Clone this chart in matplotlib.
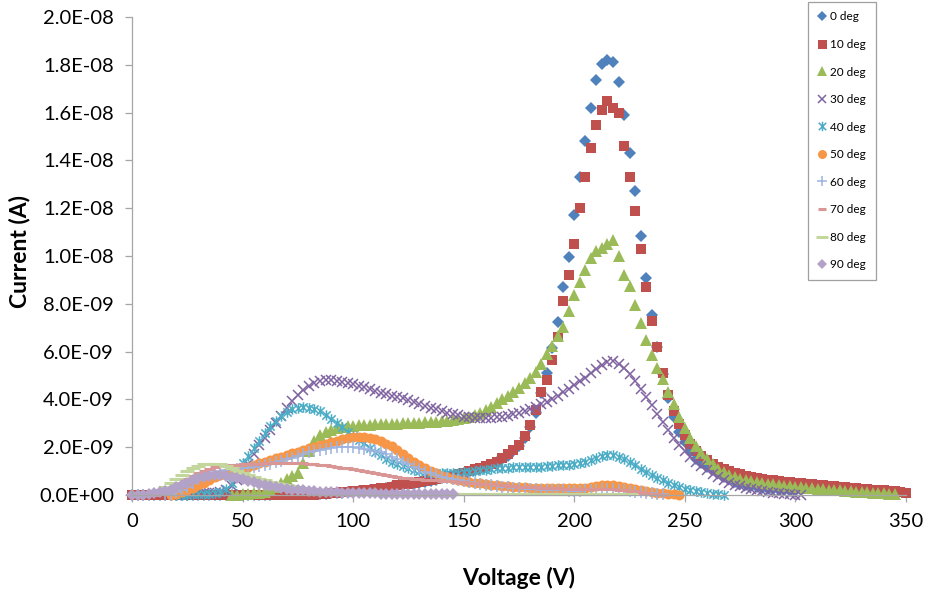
import numpy as np
import matplotlib
matplotlib.use("Agg")
import matplotlib.pyplot as plt
from matplotlib.path import Path
from matplotlib.ticker import FuncFormatter, MultipleLocator

STEP = 2.5  # voltage increment between readings (V)

# Collector current in nA, one reading every STEP volts from the start voltage
deg0_start = 0.0
deg0_na = [
    0.00, 0.00, 0.00, 0.00, 0.00, 0.00, 0.00, 0.00, 0.00, 0.00,
    0.00, 0.01, 0.01, 0.01, 0.01, 0.01, 0.01, 0.01, 0.01, 0.01,
    0.01, 0.02, 0.02, 0.02, 0.02, 0.02, 0.03, 0.03, 0.03, 0.03,
    0.04, 0.04, 0.05, 0.05, 0.06, 0.06, 0.07, 0.08, 0.09, 0.11,
    0.13, 0.15, 0.17, 0.19, 0.22, 0.25, 0.28, 0.32, 0.36, 0.40,
    0.44, 0.48, 0.52, 0.56, 0.60, 0.64, 0.70, 0.74, 0.78, 0.84,
    0.90, 0.97, 1.04, 1.10, 1.17, 1.25, 1.36, 1.50, 1.65, 1.83,
    2.03, 2.40, 2.85, 3.45, 4.25, 5.10, 6.15, 7.25, 8.70, 9.95,
    11.70, 13.30, 14.80, 16.20, 17.35, 18.05, 18.20, 18.10, 17.30, 15.90,
    14.30, 12.70, 10.85, 9.10, 7.55, 6.20, 5.05, 4.05, 3.25, 2.65,
    2.20, 1.85, 1.50, 1.33, 1.18, 1.03, 0.90, 0.76, 0.65, 0.55,
    0.47, 0.41, 0.36, 0.33, 0.30, 0.27, 0.25, 0.22, 0.20, 0.18,
    0.17,
]

deg10_start = 0.0
deg10_na = [
    0.00, 0.00, 0.00, 0.00, 0.00, 0.00, 0.00, 0.00, 0.00, 0.00,
    0.00, 0.00, 0.00, 0.00, 0.00, 0.00, 0.00, 0.00, 0.00, 0.00,
    0.00, 0.00, 0.00, 0.00, 0.00, 0.00, 0.00, 0.00, 0.00, 0.00,
    0.00, 0.00, 0.01, 0.02, 0.03, 0.05, 0.07, 0.09, 0.11, 0.13,
    0.15, 0.17, 0.19, 0.22, 0.25, 0.28, 0.31, 0.35, 0.40, 0.44,
    0.48, 0.52, 0.56, 0.60, 0.64, 0.68, 0.72, 0.76, 0.80, 0.86,
    0.92, 1.00, 1.07, 1.13, 1.20, 1.28, 1.40, 1.55, 1.70, 1.88,
    2.08, 2.45, 2.92, 3.55, 4.30, 4.80, 5.65, 6.60, 8.10, 9.20,
    10.50, 12.00, 13.30, 14.50, 15.50, 16.10, 16.50, 16.20, 16.00, 14.60,
    13.30, 11.90, 10.30, 8.70, 7.30, 6.20, 5.10, 4.20, 3.50, 2.95,
    2.50, 2.15, 1.85, 1.62, 1.45, 1.30, 1.18, 1.08, 0.99, 0.92,
    0.86, 0.80, 0.75, 0.71, 0.67, 0.64, 0.61, 0.58, 0.55, 0.53,
    0.51, 0.49, 0.47, 0.45, 0.43, 0.41, 0.39, 0.37, 0.35, 0.33,
    0.31, 0.29, 0.27, 0.25, 0.23, 0.21, 0.19, 0.17, 0.15, 0.12,
    0.10,
]

deg20_start = 45.0
deg20_na = [
    0.00, 0.00, 0.03, 0.05, 0.07, 0.10, 0.14, 0.20, 0.32, 0.50,
    0.68, 0.80, 0.90, 1.35, 1.85, 2.25, 2.50, 2.62, 2.72, 2.80,
    2.85, 2.88, 2.90, 2.92, 2.93, 2.94, 2.95, 2.96, 2.97, 2.98,
    2.99, 3.00, 3.01, 3.02, 3.03, 3.04, 3.05, 3.07, 3.09, 3.11,
    3.14, 3.17, 3.22, 3.28, 3.35, 3.45, 3.56, 3.70, 3.85, 4.00,
    4.15, 4.30, 4.48, 4.68, 4.90, 5.15, 5.50, 5.90, 6.25, 6.65,
    7.05, 7.70, 8.35, 8.90, 9.40, 9.90, 10.22, 10.32, 10.50, 10.65,
    10.00, 9.20, 8.75, 7.95, 7.20, 6.50, 5.85, 5.30, 4.85, 4.30,
    3.80, 3.25, 2.80, 2.40, 2.05, 1.75, 1.50, 1.28, 1.10, 0.96,
    0.85, 0.76, 0.69, 0.63, 0.58, 0.54, 0.50, 0.47, 0.44, 0.41,
    0.39, 0.37, 0.35, 0.33, 0.31, 0.29, 0.27, 0.25, 0.23, 0.21,
    0.20, 0.18, 0.16, 0.14, 0.13, 0.11, 0.10, 0.08, 0.07, 0.06,
    0.05,
]

deg30_start = 20.0
deg30_na = [
    0.00, 0.02, 0.04, 0.05, 0.06, 0.07, 0.08, 0.10, 0.14, 0.22,
    0.38, 0.62, 0.92, 1.30, 1.72, 2.10, 2.40, 2.70, 3.00, 3.30,
    3.62, 3.92, 4.18, 4.40, 4.58, 4.70, 4.77, 4.80, 4.80, 4.78,
    4.74, 4.70, 4.65, 4.58, 4.50, 4.42, 4.35, 4.28, 4.22, 4.15,
    4.10, 4.04, 3.97, 3.89, 3.81, 3.73, 3.66, 3.58, 3.51, 3.45,
    3.39, 3.33, 3.28, 3.25, 3.23, 3.22, 3.22, 3.23, 3.25, 3.28,
    3.32, 3.38, 3.44, 3.52, 3.60, 3.70, 3.80, 3.91, 4.02, 4.15,
    4.30, 4.45, 4.60, 4.75, 4.90, 5.10, 5.28, 5.45, 5.58, 5.60,
    5.48, 5.30, 5.05, 4.75, 4.45, 4.10, 3.75, 3.40, 3.05, 2.72,
    2.40, 2.10, 1.85, 1.60, 1.40, 1.20, 1.04, 0.88, 0.74, 0.62,
    0.52, 0.43, 0.36, 0.30, 0.24, 0.19, 0.15, 0.12, 0.09, 0.07,
    0.05, 0.03, 0.02, 0.01,
]

deg40_start = 20.0
deg40_na = [
    0.00, 0.01, 0.02, 0.03, 0.04, 0.05, 0.06, 0.08, 0.12, 0.25,
    0.50, 0.90, 1.35, 1.65, 1.95, 2.25, 2.60, 2.88, 3.10, 3.30,
    3.47, 3.58, 3.65, 3.68, 3.66, 3.60, 3.50, 3.35, 3.20, 3.02,
    2.83, 2.65, 2.48, 2.32, 2.16, 1.98, 1.82, 1.66, 1.52, 1.40,
    1.30, 1.20, 1.12, 1.05, 1.00, 0.96, 0.93, 0.92, 0.92, 0.92,
    0.93, 0.94, 0.96, 0.98, 1.00, 1.03, 1.06, 1.09, 1.12, 1.14,
    1.15, 1.16, 1.17, 1.17, 1.17, 1.18, 1.19, 1.21, 1.22, 1.24,
    1.25, 1.27, 1.30, 1.33, 1.38, 1.47, 1.56, 1.62, 1.66, 1.67,
    1.60, 1.50, 1.38, 1.24, 1.10, 0.97, 0.85, 0.73, 0.62, 0.52,
    0.43, 0.35, 0.27, 0.21, 0.16, 0.12, 0.08, 0.05, 0.03, 0.01,
]

deg50_start = 17.5
deg50_na = [
    0.00, 0.05, 0.12, 0.20, 0.30, 0.40, 0.52, 0.63, 0.74, 0.84,
    0.92, 0.99, 1.05, 1.12, 1.19, 1.26, 1.33, 1.40, 1.47, 1.54,
    1.61, 1.67, 1.74, 1.81, 1.88, 1.95, 2.02, 2.09, 2.15, 2.21,
    2.27, 2.33, 2.38, 2.42, 2.43, 2.42, 2.39, 2.33, 2.25, 2.15,
    2.03, 1.88, 1.72, 1.56, 1.40, 1.26, 1.12, 1.00, 0.90, 0.81,
    0.74, 0.68, 0.63, 0.59, 0.55, 0.52, 0.49, 0.46, 0.43, 0.40,
    0.38, 0.36, 0.34, 0.33, 0.32, 0.31, 0.30, 0.29, 0.29, 0.28,
    0.28, 0.28, 0.28, 0.28, 0.29, 0.31, 0.34, 0.38, 0.41, 0.42,
    0.41, 0.38, 0.34, 0.30, 0.26, 0.22, 0.18, 0.14, 0.10, 0.07,
    0.05, 0.03, 0.02,
]

deg60_start = 15.0
deg60_na = [
    0.00, 0.05, 0.12, 0.22, 0.35, 0.50, 0.65, 0.78, 0.88, 0.95,
    1.00, 1.03, 1.06, 1.09, 1.12, 1.15, 1.18, 1.22, 1.26, 1.31,
    1.36, 1.42, 1.49, 1.56, 1.64, 1.72, 1.79, 1.85, 1.90, 1.94,
    1.97, 1.99, 2.00, 2.00, 1.99, 1.97, 1.94, 1.90, 1.85, 1.78,
    1.70, 1.60, 1.50, 1.39, 1.28, 1.17, 1.07, 0.98, 0.90, 0.83,
    0.77, 0.71, 0.66, 0.61, 0.57, 0.53, 0.49, 0.46, 0.43, 0.40,
    0.37, 0.35, 0.33, 0.31, 0.29, 0.27, 0.25, 0.24, 0.23, 0.22,
    0.21, 0.20, 0.19, 0.18, 0.18, 0.18, 0.19, 0.21, 0.23, 0.25,
    0.26, 0.25, 0.23, 0.20, 0.17, 0.14, 0.11, 0.09, 0.07, 0.05,
    0.04,
]

deg70_start = 10.0
deg70_na = [
    0.00, 0.05, 0.12, 0.22, 0.35, 0.50, 0.65, 0.80, 0.92, 1.02,
    1.10, 1.16, 1.20, 1.23, 1.25, 1.27, 1.28, 1.29, 1.30, 1.31,
    1.32, 1.33, 1.34, 1.34, 1.34, 1.34, 1.33, 1.32, 1.31, 1.29,
    1.27, 1.25, 1.22, 1.19, 1.15, 1.11, 1.07, 1.03, 0.99, 0.95,
    0.91, 0.87, 0.83, 0.79, 0.76, 0.73, 0.70, 0.68, 0.66, 0.64,
    0.63, 0.61, 0.60, 0.58, 0.57, 0.55, 0.54, 0.52, 0.50, 0.48,
    0.46, 0.44, 0.42, 0.40, 0.38, 0.36, 0.35, 0.34, 0.33, 0.32,
    0.31, 0.30, 0.29, 0.28, 0.27, 0.26, 0.25, 0.24, 0.24, 0.24,
    0.25, 0.26, 0.26, 0.25, 0.23, 0.21, 0.18, 0.15, 0.12, 0.09,
    0.06, 0.04, 0.02,
]

deg80_start = 5.0
deg80_na = [
    0.00, 0.05, 0.12, 0.22, 0.35, 0.50, 0.68, 0.85, 1.00, 1.12,
    1.22, 1.28, 1.31, 1.31, 1.29, 1.22, 1.12, 1.02, 0.92, 0.84,
    0.76, 0.69, 0.62, 0.56, 0.50, 0.45, 0.41, 0.37, 0.33, 0.30,
    0.27, 0.25, 0.23, 0.21, 0.19, 0.18, 0.17, 0.16, 0.15, 0.14,
    0.14, 0.13, 0.12, 0.11, 0.10, 0.10, 0.09, 0.09, 0.08, 0.08,
    0.07, 0.07, 0.06, 0.06, 0.06, 0.05, 0.05, 0.05, 0.04, 0.04,
    0.04, 0.04, 0.04, 0.03, 0.03, 0.03, 0.03, 0.03, 0.03, 0.03,
    0.03, 0.03, 0.03, 0.03, 0.03, 0.03, 0.03, 0.03, 0.03, 0.03,
    0.03, 0.03, 0.03, 0.03, 0.03, 0.03, 0.03, 0.03, 0.03,
]

deg90_start = 0.0
deg90_na = [
    0.00, 0.00, 0.02, 0.04, 0.07, 0.11, 0.16, 0.23, 0.32, 0.42,
    0.52, 0.62, 0.70, 0.76, 0.80, 0.82, 0.82, 0.80, 0.76, 0.71,
    0.65, 0.59, 0.53, 0.47, 0.42, 0.37, 0.33, 0.29, 0.26, 0.23,
    0.21, 0.19, 0.17, 0.15, 0.14, 0.13, 0.12, 0.11, 0.10, 0.09,
    0.09, 0.08, 0.08, 0.07, 0.07, 0.06, 0.06, 0.06, 0.05, 0.05,
    0.05, 0.04, 0.04, 0.04, 0.04, 0.03, 0.03, 0.03,
    0.03,
]

angle_labels = ["0 deg", "10 deg", "20 deg", "30 deg", "40 deg",
                "50 deg", "60 deg", "70 deg", "80 deg", "90 deg"]
start_voltages = [deg0_start, deg10_start, deg20_start, deg30_start, deg40_start,
                  deg50_start, deg60_start, deg70_start, deg80_start, deg90_start]
currents_na = [deg0_na, deg10_na, deg20_na, deg30_na, deg40_na,
               deg50_na, deg60_na, deg70_na, deg80_na, deg90_na]

# x with a vertical bar: spreadsheet-style "star" marker
star = Path([(-1, -1), (1, 1), (-1, 1), (1, -1), (0, -1.25), (0, 1.25)],
            [Path.MOVETO, Path.LINETO, Path.MOVETO, Path.LINETO, Path.MOVETO, Path.LINETO])

styles = [
    dict(color="#4F81BD", marker="D", ms=6.0, mew=0),
    dict(color="#C0504D", marker="s", ms=7.2, mew=0),
    dict(color="#9BBB59", marker="^", ms=8.2, mew=0),
    dict(color="#8064A2", marker="x", ms=7.0, mew=1.1),
    dict(color="#4BACC6", marker=star, ms=7.5, mew=1.1),
    dict(color="#F79646", marker="o", ms=7.2, mew=0),
    dict(color="#9DB3E0", marker="+", ms=8.0, mew=1.1),
    dict(color="#D99694", marker="_", ms=7.0, mew=2.2),
    dict(color="#C3D69B", marker="_", ms=10.0, mew=2.2),
    dict(color="#B3A2C7", marker="D", ms=6.0, mew=0),
]

plt.rcParams["font.family"] = ["Lato", "DejaVu Sans"]

fig = plt.figure(figsize=(9.27, 5.97), dpi=100)
ax = fig.add_axes([132 / 927, 1 - 495 / 597, (906 - 132) / 927, (495 - 17) / 597])

for label, v0, vals, st in zip(angle_labels, start_voltages, currents_na, styles):
    volts = v0 + STEP * np.arange(len(vals))
    amps = np.array(vals) * 1e-9
    ax.plot(volts, amps, linestyle="none", marker=st["marker"], markersize=st["ms"],
            markeredgewidth=st["mew"], color=st["color"], markerfacecolor=st["color"],
            markeredgecolor=st["color"], label=label, clip_on=False)

ax.set_xlim(0, 350)
ax.set_ylim(0, 2.0e-8)
ax.xaxis.set_major_locator(MultipleLocator(50))
ax.yaxis.set_major_locator(MultipleLocator(2.0e-9))
ax.yaxis.set_major_formatter(FuncFormatter(lambda v, _: f"{v:.1E}"))

for side in ("top", "right"):
    ax.spines[side].set_visible(False)
for side in ("left", "bottom"):
    ax.spines[side].set_color("#A6A6A6")
    ax.spines[side].set_linewidth(0.9)
ax.tick_params(axis="both", direction="out", length=5, width=0.9, color="#A6A6A6",
               labelsize=14.5, labelcolor="#000000", pad=8)

fig.text(519 / 927, 1 - 578 / 597, "Voltage (V)", fontsize=16.5, fontweight="bold",
         ha="center", va="center")
fig.text(20 / 927, 1 - 251 / 597, "Current (A)", fontsize=16.5, fontweight="bold",
         ha="center", va="center", rotation=90)

leg = ax.legend(loc="upper left", bbox_to_anchor=(808 / 927, 1 - 2 / 597),
                bbox_transform=fig.transFigure, fontsize=8.5, frameon=True,
                fancybox=False, edgecolor="#888888", handlelength=0.8,
                handletextpad=0.3, labelspacing=1.4, borderpad=0.8,
                borderaxespad=0, numpoints=1, markerscale=0.9)
leg.get_frame().set_linewidth(0.9)

fig.savefig("out.png", dpi=100)
